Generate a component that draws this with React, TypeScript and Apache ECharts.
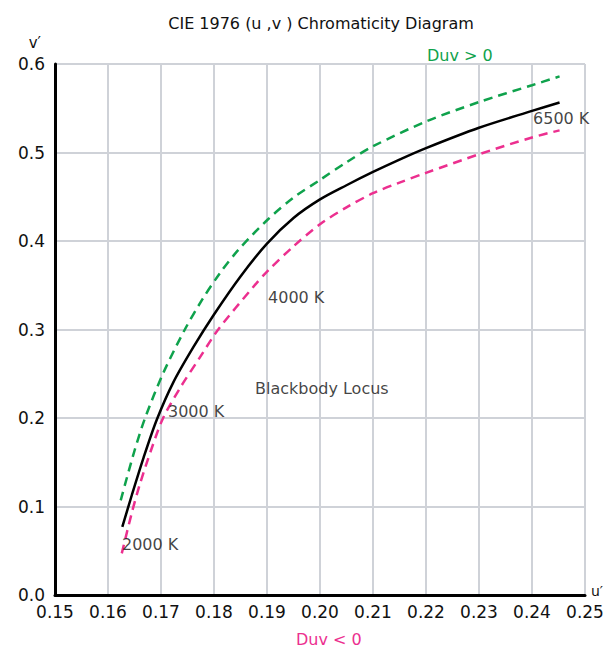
import React, { useEffect, useRef } from "react";
import * as echarts from "echarts";

const FONT = "'DejaVu Sans', sans-serif";

const locusU = [0.1627, 0.1645, 0.1667, 0.1692, 0.1723, 0.1761, 0.18, 0.185, 0.19, 0.195, 0.2, 0.205, 0.21, 0.215, 0.22, 0.23, 0.24, 0.2452];
const locusV = [0.077, 0.113, 0.155, 0.198, 0.24, 0.28, 0.317, 0.36, 0.397, 0.426, 0.447, 0.463, 0.478, 0.492, 0.505, 0.528, 0.547, 0.5565];

const duvPosU = [0.1624, 0.165, 0.167, 0.1704, 0.1745, 0.1778, 0.1811, 0.1846, 0.1901, 0.195, 0.2, 0.205, 0.21, 0.22, 0.23, 0.24, 0.2452];
const duvPosV = [0.107, 0.163, 0.2, 0.2505, 0.3, 0.334, 0.3635, 0.39, 0.424, 0.449, 0.469, 0.489, 0.507, 0.535, 0.557, 0.576, 0.586];

const duvNegU = [0.1626, 0.1645, 0.166, 0.1682, 0.1704, 0.1736, 0.1774, 0.1808, 0.1874, 0.1901, 0.195, 0.2, 0.205, 0.21, 0.215, 0.22, 0.23, 0.24, 0.2452];
const duvNegV = [0.047, 0.093, 0.125, 0.165, 0.2, 0.234, 0.269, 0.3, 0.348, 0.366, 0.394, 0.419, 0.438, 0.454, 0.466, 0.477, 0.498, 0.517, 0.525];

const annotationText = ["2000 K", "3000 K", "4000 K", "6500 K", "Blackbody Locus"];
const annotationU = [0.16264, 0.17132, 0.1902, 0.2402, 0.18774];
const annotationV = [0.0576, 0.2079, 0.3367, 0.5379, 0.2328];

const GREEN = "#0fa24c";
const MAGENTA = "#ec2f8f";

const zip = (a: number[], b: number[]) => a.map((x, i) => [x, b[i]]);

export default function App() {
  const ref = useRef<HTMLDivElement>(null);
  useEffect(() => {
    if (!ref.current) return;
    const chart = echarts.init(ref.current, null, { renderer: "svg" });
    const lineBase = {
      type: "line",
      smooth: 0.3,
      showSymbol: false,
      symbol: "none",
    };
    chart.setOption({
      animation: false,
      textStyle: { fontFamily: FONT },
      title: {
        text: "CIE 1976 (u ,v ) Chromaticity Diagram",
        left: 316,
        textAlign: "center",
        top: 10,
        textStyle: { fontFamily: FONT, fontSize: 16, fontWeight: "normal", color: "#111" },
      },
      grid: { left: 55, right: 27, top: 64, bottom: 54, containLabel: false, outerBoundsMode: "none" },
      xAxis: {
        type: "value",
        min: 0.15,
        max: 0.25,
        interval: 0.01,
        name: "u′",
        nameLocation: "end",
        nameGap: 6,
        nameTextStyle: { fontFamily: FONT, fontSize: 14, color: "#111", verticalAlign: "top", padding: [-11, 0, 0, 0] },
        axisLine: { show: true, onZero: false, lineStyle: { color: "#000", width: 3 } },
        axisTick: { show: false },
        axisLabel: {
          margin: 8,
          fontFamily: FONT,
          fontSize: 17,
          color: "#111",
          formatter: (v: number) => v.toFixed(2),
        },
        splitLine: { show: true, lineStyle: { color: "#cfd2d8", width: 2 } },
      },
      yAxis: {
        type: "value",
        min: 0,
        max: 0.6,
        interval: 0.1,
        name: "v′",
        nameLocation: "end",
        nameGap: 14,
        nameTextStyle: { fontFamily: FONT, fontSize: 15, color: "#111", align: "right", padding: [0, 14, 0, 0] },
        axisLine: { show: true, onZero: false, lineStyle: { color: "#000", width: 3 } },
        axisTick: { show: false },
        axisLabel: {
          margin: 10,
          fontFamily: FONT,
          fontSize: 17,
          color: "#111",
          formatter: (v: number) => v.toFixed(1),
        },
        splitLine: { show: true, lineStyle: { color: "#cfd2d8", width: 2 } },
      },
      series: [
        {
          ...lineBase,
          data: zip(duvPosU, duvPosV),
          lineStyle: { color: GREEN, width: 2.5, type: [9, 6] },
          z: 3,
        },
        {
          ...lineBase,
          data: zip(duvNegU, duvNegV),
          lineStyle: { color: MAGENTA, width: 2.5, type: [9, 6] },
          z: 3,
        },
        {
          ...lineBase,
          data: zip(locusU, locusV),
          lineStyle: { color: "#000", width: 2.5 },
          z: 4,
        },
        {
          type: "scatter",
          symbolSize: 0,
          silent: true,
          z: 5,
          data: annotationText.map((t, i) => ({ value: [annotationU[i], annotationV[i]], name: t })),
          label: {
            show: true,
            position: [0, 0],
            align: "left",
            verticalAlign: "middle",
            formatter: (p: any) => p.name,
            fontFamily: FONT,
            fontSize: 16,
            color: "#111",
          },
        },
      ],
      graphic: [
        {
          type: "text",
          left: 427,
          top: 47,
          style: { text: "Duv > 0", fill: GREEN, font: `16px ${FONT}` },
        },
        {
          type: "text",
          left: 296,
          top: 631,
          style: { text: "Duv < 0", fill: MAGENTA, font: `16px ${FONT}` },
        },
      ],
    });
    return () => chart.dispose();
  }, []);
  return <div ref={ref} style={{ width: 612, height: 649, position: "absolute", left: 0, top: 0 }} />;
}
